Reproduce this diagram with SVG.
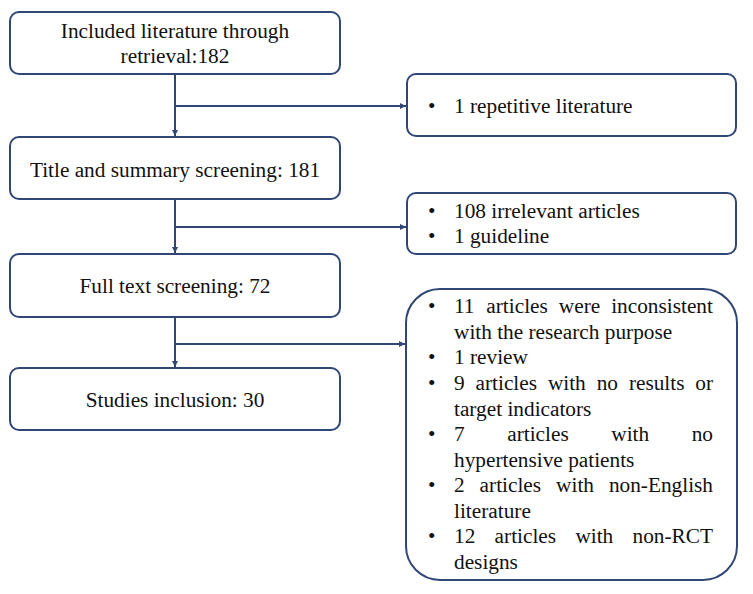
<svg xmlns="http://www.w3.org/2000/svg" width="753" height="594" viewBox="0 0 753 594">
<style>
.box{fill:#fff;stroke:#2f4676;stroke-width:2}
.ln{fill:none;stroke:#2f4676;stroke-width:2}
.t{font-family:'Liberation Serif','Times New Roman',serif;font-size:21.3px;fill:#111}
.c{text-anchor:middle}
</style>
<defs>
<marker id="ah" viewBox="0 0 10 10" refX="10" refY="5" markerWidth="3.2" markerHeight="3.2" orient="auto" markerUnits="strokeWidth">
<path d="M0,0 L10,5 L0,10 Z" fill="#2f4676"/>
</marker>
</defs>
<rect width="753" height="594" fill="#fff"/>
<g id="connectors">
<path class="ln" d="M175,74 V136" marker-end="url(#ah)"/>
<path class="ln" d="M175,106 H406" marker-end="url(#ah)"/>
<path class="ln" d="M175,199 V253" marker-end="url(#ah)"/>
<path class="ln" d="M175,227 H406" marker-end="url(#ah)"/>
<path class="ln" d="M175,317 V367" marker-end="url(#ah)"/>
<path class="ln" d="M175,344 H405" marker-end="url(#ah)"/>
</g>
<g id="n1">
<rect class="box" x="10" y="12" width="330" height="62" rx="9"/>
<text class="t c" x="175" y="38">Included literature through</text>
<text class="t c" x="175" y="63">retrieval:182</text>
</g>
<g id="n2">
<rect class="box" x="10" y="137" width="330" height="62" rx="9"/>
<text class="t c" x="175" y="177">Title and summary screening: 181</text>
</g>
<g id="n3">
<rect class="box" x="10" y="254" width="330" height="63" rx="9"/>
<text class="t c" x="175" y="293">Full text screening: 72</text>
</g>
<g id="n4">
<rect class="box" x="10" y="368" width="330" height="62" rx="9"/>
<text class="t c" x="175" y="407">Studies inclusion: 30</text>
</g>
<g id="r1">
<rect class="box" x="407" y="74" width="329" height="62" rx="9"/>
<text class="t" x="428" y="113">•</text>
<text class="t" x="454" y="113">1 repetitive literature</text>
</g>
<g id="r2">
<rect class="box" x="407" y="193" width="329" height="61" rx="9"/>
<text class="t" x="428" y="218">•</text>
<text class="t" x="454" y="218">108 irrelevant articles</text>
<text class="t" x="428" y="243">•</text>
<text class="t" x="454" y="243">1 guideline</text>
</g>
<g id="r3">
<rect class="box" x="406" y="289" width="331" height="291" rx="34"/>
<text class="t" x="428" y="313">•</text>
<text class="t" y="313"><tspan x="454">11</tspan><tspan x="486.3">articles</tspan><tspan x="558.8">were</tspan><tspan x="611.2">inconsistent</tspan></text>
<text class="t" x="454" y="339">with the research purpose</text>
<text class="t" x="428" y="364">•</text>
<text class="t" x="454" y="364">1 review</text>
<text class="t" x="428" y="390">•</text>
<text class="t" y="390"><tspan x="454">9</tspan><tspan x="475.5">articles</tspan><tspan x="547.9">with</tspan><tspan x="596.7">no</tspan><tspan x="628.9">results</tspan><tspan x="695.3">or</tspan></text>
<text class="t" x="454" y="416">target indicators</text>
<text class="t" x="428" y="441">•</text>
<text class="t" y="441"><tspan x="454">7</tspan><tspan x="507.2">articles</tspan><tspan x="611.3">with</tspan><tspan x="691.7">no</tspan></text>
<text class="t" x="454" y="467">hypertensive patients</text>
<text class="t" x="428" y="492">•</text>
<text class="t" y="492"><tspan x="454">2</tspan><tspan x="479.6">articles</tspan><tspan x="556.1">with</tspan><tspan x="608.9">non-English</tspan></text>
<text class="t" x="454" y="518">literature</text>
<text class="t" x="428" y="543">•</text>
<text class="t" y="543"><tspan x="454">12</tspan><tspan x="494.6">articles</tspan><tspan x="575.4">with</tspan><tspan x="632.5">non-RCT</tspan></text>
<text class="t" x="454" y="569">designs</text>
</g>
</svg>
